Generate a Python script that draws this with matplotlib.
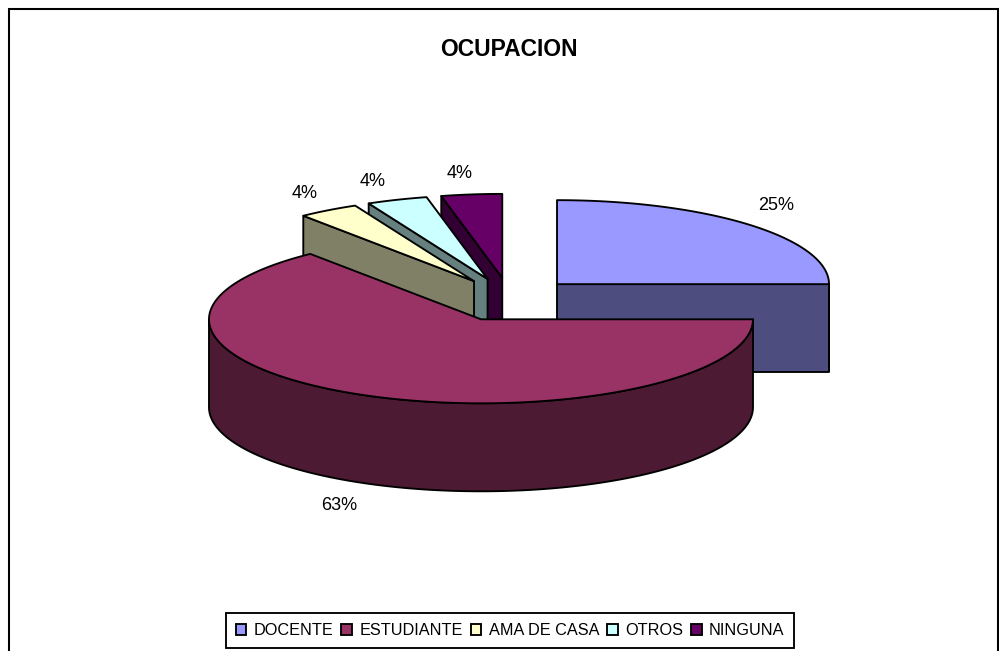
import numpy as np
import matplotlib
matplotlib.use("Agg")
import matplotlib.pyplot as plt
from matplotlib.patches import Patch, Polygon, Rectangle

plt.rcParams['font.family'] = ['Liberation Sans', 'DejaVu Sans']

# Data
categories = ["DOCENTE", "ESTUDIANTE", "AMA DE CASA", "OTROS", "NINGUNA"]
slice_shares = [25.0, 64.2, 3.6, 3.6, 3.6]
printed_labels = ["25%", "63%", "4%", "4%", "4%"]  # labels as printed in the chart
top_colors = ["#9999FF", "#993366", "#FFFFCC", "#CCFFFF", "#660066"]
side_colors = ["#4D4D80", "#4D1A33", "#808066", "#668080", "#330033"]
label_positions = [(776, 205.5), (339, 505.5), (305, 193), (373, 181), (460, 173)]

# Layout (pixels)
W, H = 999, 651
CX, CY = 509.8, 299.6
RX, RY, DEPTH = 272.0, 84.0, 88.0
EXPLODE_X, EXPLODE_Y = 0.2455, 0.26
draw_order = [4, 3, 2, 0, 1]
LW = 1.35

fig = plt.figure(figsize=(W / 100, H / 100), dpi=100)
ax = fig.add_axes([0, 0, 1, 1])
ax.set_xlim(0, W)
ax.set_ylim(H, 0)
ax.axis("off")

ax.add_patch(Rectangle((8.5, 8.5), 989, 660, fc="white", ec="black", lw=LW * 1.1, zorder=0))
ax.text(509, 49, "OCUPACION", ha="center", va="center", fontsize=16.5, fontweight="bold")


def pt(cx, cy, deg, dy=0.0):
    a = np.radians(deg)
    return cx + RX * np.sin(a), cy - RY * np.cos(a) + dy


shares = np.array(slice_shares)
edges = np.concatenate([[0], np.cumsum(shares / shares.sum())]) * 360.0


def face(pts, color, z):
    ax.add_patch(Polygon(pts, closed=True, fc=color, ec="black", lw=LW, joinstyle="round", zorder=z))


for z, i in enumerate(draw_order):
    a1, a2 = edges[i], edges[i + 1]
    mid = np.radians((a1 + a2) / 2)
    cx = CX + EXPLODE_X * RX * np.sin(mid)
    cy = CY - EXPLODE_Y * RY * np.cos(mid)
    base = 10 + z * 10
    # visible cut faces
    if np.sin(np.radians(a1)) < -1e-6:
        p = pt(cx, cy, a1)
        face([(cx, cy), p, (p[0], p[1] + DEPTH), (cx, cy + DEPTH)], side_colors[i], base)
    if np.sin(np.radians(a2)) > 1e-6:
        p = pt(cx, cy, a2)
        face([(cx, cy), p, (p[0], p[1] + DEPTH), (cx, cy + DEPTH)], side_colors[i], base)
    # visible outer wall
    lo, hi = max(a1, 90.0), min(a2, 270.0)
    if hi > lo:
        t = np.linspace(lo, hi, 160)
        upper = [pt(cx, cy, d) for d in t]
        lower = [pt(cx, cy, d, DEPTH) for d in t[::-1]]
        face(upper + lower, side_colors[i], base + 1)
    # top face
    t = np.linspace(a1, a2, 200)
    face([(cx, cy)] + [pt(cx, cy, d) for d in t], top_colors[i], base + 2)

for (x, y), s in zip(label_positions, printed_labels):
    ax.text(x, y, s, ha="center", va="center", fontsize=13, zorder=100)

handles = [Patch(fc=c, ec="black", lw=LW) for c in top_colors]
leg = ax.legend(handles, categories, loc="center", bbox_to_anchor=(510 / W, 1 - 630.5 / H),
                bbox_transform=fig.transFigure, ncol=5, fontsize=11.7, frameon=True, fancybox=False,
                edgecolor="black", framealpha=1, handlelength=0.65, handleheight=0.65,
                handletextpad=0.45, columnspacing=0.5, borderpad=0.6, borderaxespad=0)
leg.get_frame().set_linewidth(LW)
leg.set_zorder(200)

fig.savefig("out.png", dpi=100)
